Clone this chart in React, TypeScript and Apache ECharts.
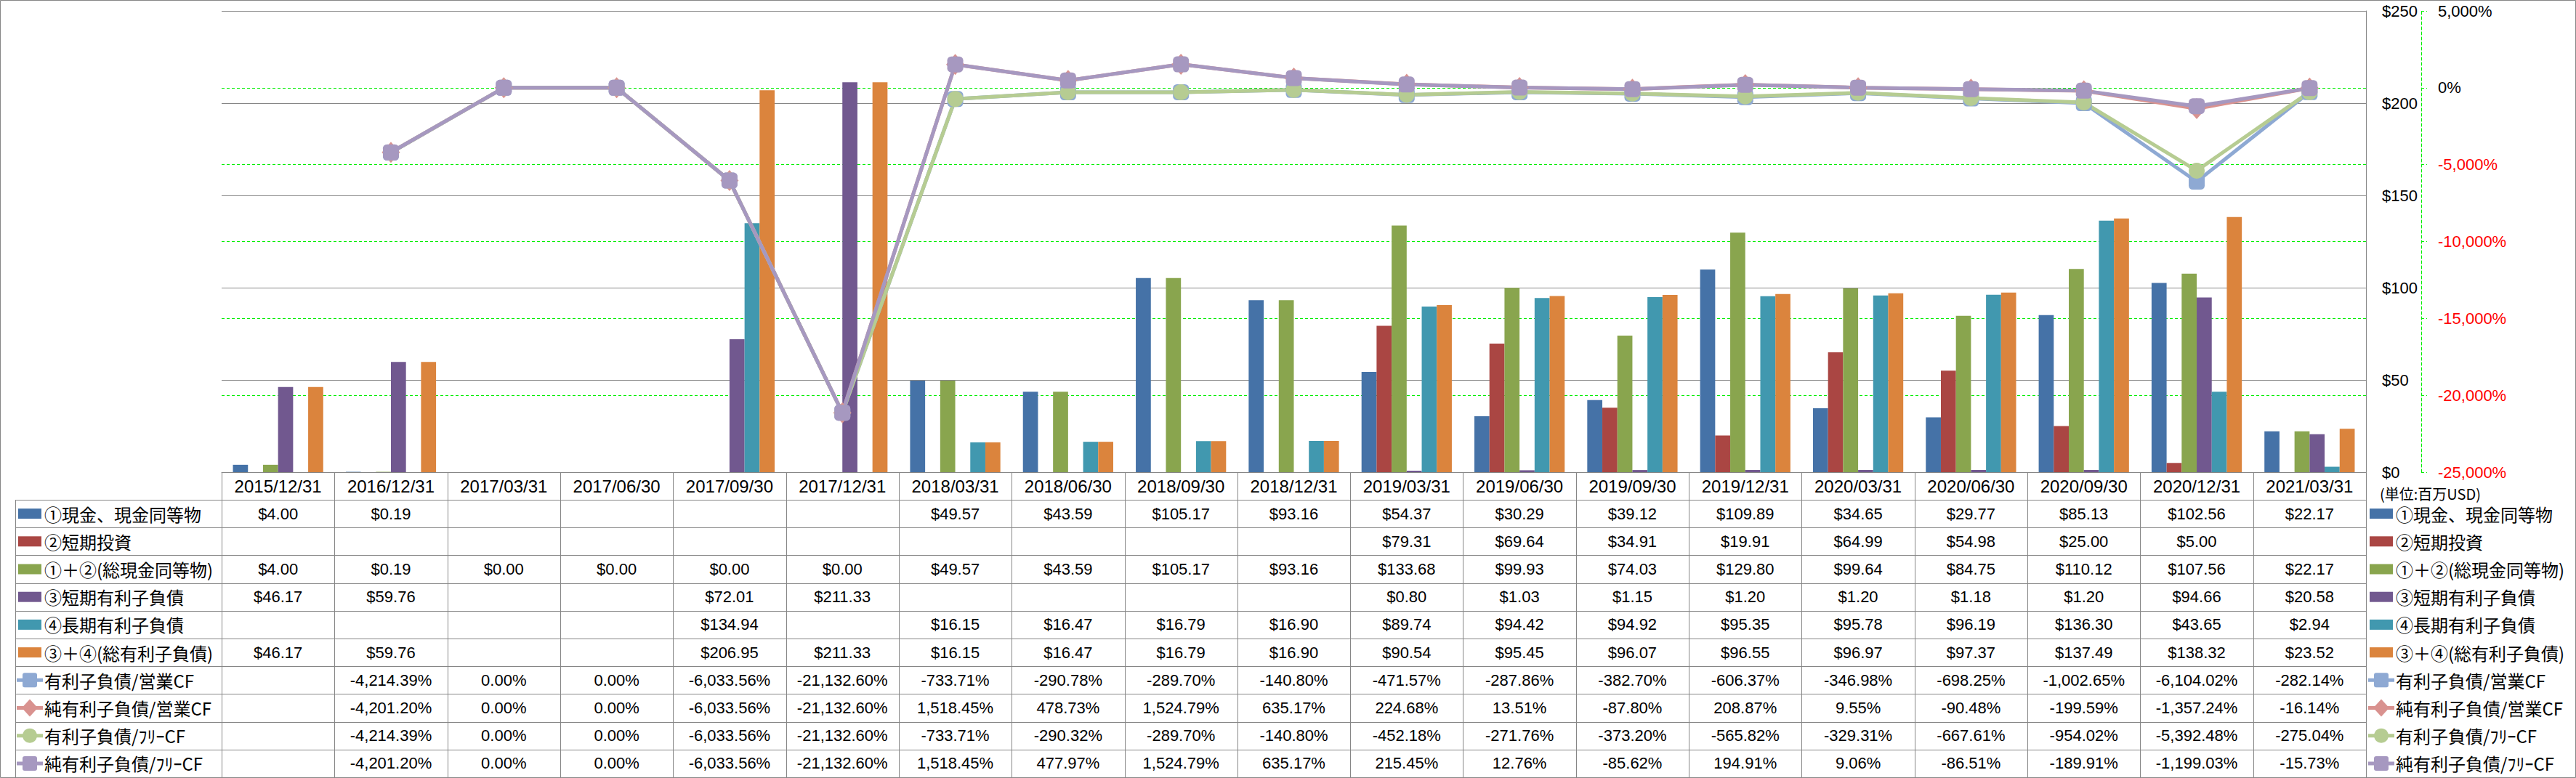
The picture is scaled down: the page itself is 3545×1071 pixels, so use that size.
import React, { useEffect, useRef } from "react";
import * as echarts from "echarts";

const CATEGORIES = [
  "2015/12/31", "2016/12/31", "2017/03/31", "2017/06/30", "2017/09/30", "2017/12/31",
  "2018/03/31", "2018/06/30", "2018/09/30", "2018/12/31", "2019/03/31", "2019/06/30",
  "2019/09/30", "2019/12/31", "2020/03/31", "2020/06/30", "2020/09/30", "2020/12/31", "2021/03/31",
];

const CASH = [4.0, 0.19, null, null, null, null, 49.57, 43.59, 105.17, 93.16, 54.37, 30.29, 39.12, 109.89, 34.65, 29.77, 85.13, 102.56, 22.17];
const ST_INV = [null, null, null, null, null, null, null, null, null, null, 79.31, 69.64, 34.91, 19.91, 64.99, 54.98, 25.0, 5.0, null];
const TOTAL_CASH = [4.0, 0.19, 0.0, 0.0, 0.0, 0.0, 49.57, 43.59, 105.17, 93.16, 133.68, 99.93, 74.03, 129.8, 99.64, 84.75, 110.12, 107.56, 22.17];
const ST_DEBT = [46.17, 59.76, null, null, 72.01, 211.33, null, null, null, null, 0.8, 1.03, 1.15, 1.2, 1.2, 1.18, 1.2, 94.66, 20.58];
const LT_DEBT = [null, null, null, null, 134.94, null, 16.15, 16.47, 16.79, 16.9, 89.74, 94.42, 94.92, 95.35, 95.78, 96.19, 136.3, 43.65, 2.94];
const TOTAL_DEBT = [46.17, 59.76, null, null, 206.95, 211.33, 16.15, 16.47, 16.79, 16.9, 90.54, 95.45, 96.07, 96.55, 96.97, 97.37, 137.49, 138.32, 23.52];

const DEBT_OCF = [null, -4214.39, 0, 0, -6033.56, -21132.6, -733.71, -290.78, -289.7, -140.8, -471.57, -287.86, -382.7, -606.37, -346.98, -698.25, -1002.65, -6104.02, -282.14];
const NET_DEBT_OCF = [null, -4201.2, 0, 0, -6033.56, -21132.6, 1518.45, 478.73, 1524.79, 635.17, 224.68, 13.51, -87.8, 208.87, 9.55, -90.48, -199.59, -1357.24, -16.14];
const DEBT_FCF = [null, -4214.39, 0, 0, -6033.56, -21132.6, -733.71, -290.32, -289.7, -140.8, -452.18, -271.76, -373.2, -565.82, -329.31, -667.61, -954.02, -5392.48, -275.04];
const NET_DEBT_FCF = [null, -4201.2, 0, 0, -6033.56, -21132.6, 1518.45, 477.97, 1524.79, 635.17, 215.45, 12.76, -85.62, 194.91, 9.06, -86.51, -189.91, -1199.03, -15.73];

const USD_TICKS = { min: 0, max: 250, interval: 50 };
const PCT_TICKS = { min: -25000, max: 5000, interval: 5000 };
const UNIT_LABEL = "(単位:百万USD)";

type Row = {
  name: string;
  color: string;
  kind: "bar" | "line";
  symbol?: "square" | "diamond" | "circle";
  data: (number | null)[];
};

const ROWS: Row[] = [
  { name: "①現金、現金同等物", color: "#4572A7", kind: "bar", data: CASH },
  { name: "②短期投資", color: "#AA4643", kind: "bar", data: ST_INV },
  { name: "①＋②(総現金同等物)", color: "#89A54E", kind: "bar", data: TOTAL_CASH },
  { name: "③短期有利子負債", color: "#71588F", kind: "bar", data: ST_DEBT },
  { name: "④長期有利子負債", color: "#4198AF", kind: "bar", data: LT_DEBT },
  { name: "③＋④(総有利子負債)", color: "#DB843D", kind: "bar", data: TOTAL_DEBT },
  { name: "有利子負債/営業CF", color: "#8EA9D3", kind: "line", symbol: "square", data: DEBT_OCF },
  { name: "純有利子負債/営業CF", color: "#D9928F", kind: "line", symbol: "diamond", data: NET_DEBT_OCF },
  { name: "有利子負債/ﾌﾘｰCF", color: "#B6CC92", kind: "line", symbol: "circle", data: DEBT_FCF },
  { name: "純有利子負債/ﾌﾘｰCF", color: "#A698C0", kind: "line", symbol: "square", data: NET_DEBT_FCF },
];

const W = 3545;
const H = 1071;
const GRID_LEFT = 305;
const GRID_TOP = 15;
const GRID_W = 2951;
const GRID_H = 635;
const ROW_H = 38.2;
const TABLE_LEFT = 21;
const BORDER = "#868686";
const GREEN = "#00EE00";
const LATIN = "'Liberation Sans', 'Noto Sans CJK JP', sans-serif";
const CJK = "'Noto Sans CJK JP', 'Liberation Sans', sans-serif";

const fmtUsd = (v: number) => "$" + v.toLocaleString("en-US", { minimumFractionDigits: 2, maximumFractionDigits: 2 });
const fmtPct = (v: number) => v.toLocaleString("en-US", { minimumFractionDigits: 2, maximumFractionDigits: 2 }) + "%";

const symbolMap: Record<string, string> = { square: "roundRect", diamond: "diamond", circle: "circle" };
const symbolSize: Record<string, number | number[]> = { square: 22, diamond: [25, 29], circle: 22 };

function legendKey(row: Row, x: number, yc: number): any[] {
  if (row.kind === "bar") {
    return [{ type: "rect", silent: true, shape: { x, y: yc - 7, width: 32, height: 14 }, style: { fill: row.color } }];
  }
  const els: any[] = [
    { type: "line", silent: true, shape: { x1: x - 2, y1: yc, x2: x + 34, y2: yc }, style: { stroke: row.color, lineWidth: 5 } },
  ];
  const cx = x + 16;
  if (row.symbol === "square") {
    els.push({ type: "rect", silent: true, shape: { x: cx - 10, y: yc - 10, width: 20, height: 20, r: 3 }, style: { fill: row.color } });
  } else if (row.symbol === "diamond") {
    els.push({ type: "polygon", silent: true, shape: { points: [[cx, yc - 12], [cx + 11, yc], [cx, yc + 12], [cx - 11, yc]] }, style: { fill: row.color } });
  } else {
    els.push({ type: "circle", silent: true, shape: { cx, cy: yc, r: 10 }, style: { fill: row.color } });
  }
  return els;
}

export default function App() {
  const ref = useRef<HTMLDivElement>(null);

  useEffect(() => {
    if (!ref.current) return;
    const chart = echarts.init(ref.current, null, { renderer: "svg" });

    const series: any[] = ROWS.map((r) => {
      if (r.kind === "bar") {
        return {
          name: r.name,
          type: "bar",
          yAxisIndex: 0,
          data: r.data,
          barGap: "0%",
          barCategoryGap: "20%",
          itemStyle: { color: r.color },
          z: 2,
        };
      }
      return {
        name: r.name,
        type: "line",
        yAxisIndex: 1,
        data: r.data,
        symbol: symbolMap[r.symbol as string],
        symbolSize: symbolSize[r.symbol as string],
        showSymbol: true,
        connectNulls: false,
        lineStyle: { color: r.color, width: 5 },
        itemStyle: { color: r.color },
        z: 4,
      };
    });

    chart.setOption({
      animation: false,
      backgroundColor: "#FFFFFF",
      textStyle: { fontFamily: LATIN },
      grid: { left: GRID_LEFT, top: GRID_TOP, width: GRID_W, height: GRID_H, containLabel: false },
      xAxis: {
        type: "category",
        data: CATEGORIES,
        boundaryGap: true,
        axisLine: { show: true, lineStyle: { color: BORDER, width: 1 } },
        axisTick: { show: false },
        axisLabel: { interval: 0, fontSize: 24, color: "#000", margin: 7, fontFamily: LATIN },
        splitLine: { show: false },
      },
      yAxis: [
        {
          type: "value",
          position: "right",
          min: USD_TICKS.min,
          max: USD_TICKS.max,
          interval: USD_TICKS.interval,
          axisLine: { show: true, lineStyle: { color: BORDER, width: 1 } },
          axisTick: { show: false },
          axisLabel: {
            margin: 22,
            fontSize: 22,
            color: "#000",
            align: "left",
            fontFamily: LATIN,
            formatter: (v: number) => "$" + v,
          },
          splitLine: { show: true, lineStyle: { color: BORDER, width: 1.2 } },
          z: 1,
        },
        {
          type: "value",
          position: "right",
          offset: 76,
          min: PCT_TICKS.min,
          max: PCT_TICKS.max,
          interval: PCT_TICKS.interval,
          axisLine: { show: true, lineStyle: { color: GREEN, width: 1, type: [4, 3] } },
          axisTick: { show: true, inside: false, length: 8, lineStyle: { color: GREEN, width: 1, type: [4, 3] } },
          axisLabel: {
            margin: 23,
            fontSize: 22,
            align: "left",
            fontFamily: LATIN,
            formatter: (v: number) => {
              const s = v.toLocaleString("en-US") + "%";
              return v < 0 ? "{neg|" + s + "}" : "{pos|" + s + "}";
            },
            rich: {
              neg: { color: "#FF0000", fontSize: 22, fontFamily: LATIN },
              pos: { color: "#000000", fontSize: 22, fontFamily: LATIN },
            },
          },
          splitLine: { show: true, lineStyle: { color: GREEN, width: 1.2, type: [4, 3] } },
        },
      ],
      series,
    });

    const centers = CATEGORIES.map((_, i) => chart.convertToPixel({ xAxisIndex: 0 }, i) as number);
    const bw = centers.length > 1 ? centers[1] - centers[0] : GRID_W;
    const bounds = [centers[0] - bw / 2, ...centers.map((c) => c + bw / 2)];
    const axisY = chart.convertToPixel({ yAxisIndex: 0 }, 0) as number;
    const headerBottom = axisY + 38;
    const tableRight = bounds[bounds.length - 1];
    const tableBottom = headerBottom + ROW_H * ROWS.length;

    const els: any[] = [];
    els.push({ type: "rect", silent: true, shape: { x: 0.5, y: 0.5, width: W - 1, height: H - 1 }, style: { fill: "none", stroke: BORDER, lineWidth: 1 }, z: 10 });

    for (let k = 0; k <= ROWS.length; k++) {
      const y = Math.round(headerBottom + ROW_H * k) + 0.5;
      els.push({ type: "line", silent: true, shape: { x1: TABLE_LEFT, y1: y, x2: tableRight, y2: y }, style: { stroke: BORDER, lineWidth: 1 } });
    }
    els.push({ type: "line", silent: true, shape: { x1: TABLE_LEFT + 0.5, y1: headerBottom, x2: TABLE_LEFT + 0.5, y2: tableBottom }, style: { stroke: BORDER, lineWidth: 1 } });
    bounds.forEach((b) => {
      const x = Math.round(b) + 0.5;
      els.push({ type: "line", silent: true, shape: { x1: x, y1: axisY, x2: x, y2: tableBottom }, style: { stroke: BORDER, lineWidth: 1 } });
    });

    els.push({
      type: "text",
      silent: true,
      x: 3275,
      y: axisY + 29,
      style: { text: UNIT_LABEL, fontSize: 20, fontFamily: CJK, fill: "#000", align: "left", verticalAlign: "middle" },
    });

    ROWS.forEach((row, r) => {
      const yc = headerBottom + ROW_H * r + ROW_H / 2;
      els.push(...legendKey(row, 25, yc));
      els.push({
        type: "text",
        silent: true,
        x: 61,
        y: yc,
        style: { text: row.name, fontSize: 24, fontFamily: CJK, fill: "#000", align: "left", verticalAlign: "middle" },
      });
      els.push(...legendKey(row, 3261, yc));
      els.push({
        type: "text",
        silent: true,
        x: 3297,
        y: yc,
        style: { text: row.name, fontSize: 24, fontFamily: CJK, fill: "#000", align: "left", verticalAlign: "middle" },
      });
      row.data.forEach((v, i) => {
        if (v === null || v === undefined) return;
        const text = row.kind === "bar" ? fmtUsd(v) : fmtPct(v);
        els.push({
          type: "text",
          silent: true,
          x: centers[i],
          y: yc,
          style: { text, fontSize: 22, fontFamily: LATIN, fill: "#000", align: "center", verticalAlign: "middle" },
        });
      });
    });

    chart.setOption({ graphic: { elements: els } });

    return () => {
      chart.dispose();
    };
  }, []);

  return (
    <div
      ref={ref}
      style={{ position: "fixed", left: 0, top: 0, width: W, height: H, background: "#fff" }}
    />
  );
}
